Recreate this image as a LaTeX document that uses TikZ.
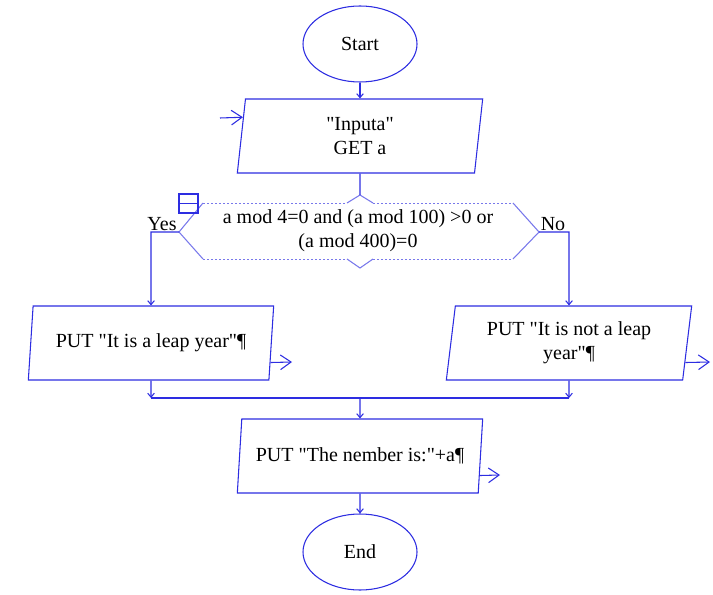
\documentclass[tikz,border=0pt]{standalone}
\usepackage{fontspec}
\setmainfont{Liberation Serif}[Ligatures=TeXOff]
\usetikzlibrary{shapes.geometric,arrows.meta,calc}
\definecolor{flowBlue}{RGB}{45,45,225}
\definecolor{dotBlue}{RGB}{120,120,235}
\tikzset{
  terminal/.style={ellipse,draw=flowBlue,minimum width=85.5pt,minimum height=57pt},
  io/.style={trapezium,trapezium left angle=80,trapezium right angle=100,
    trapezium stretches body,draw=flowBlue,minimum width=184pt,minimum height=55.5pt,align=center},
  flow/.style={draw=flowBlue,-{Straight Barb[length=3pt,width=5pt]}},
  exit/.style={draw=flowBlue,-{Straight Barb[length=8pt,width=11pt]}},
  dots/.style={draw=dotBlue,line width=0.6pt,dash pattern=on 1.5pt off 1.5pt}
}
\begin{document}
\begin{tikzpicture}[x=0.75pt,y=-0.75pt,line width=0.8pt,font=\fontsize{15}{18}\selectfont]
    \useasboundingbox (0,0) rectangle (713,595);
    \node[terminal] (start) at (360,44) {Start};
    \node[io] (input) at (360,136) {"Inputa"\\GET a};
    \node[align=center] (dec) at (358,231) {a mod 4=0 and (a mod 100) >0 or\\(a mod 400)=0};
    \node[io] (yesOut) at (151,343) {PUT "It is a leap year"¶};
    \node[io] (noOut) at (569,343) {PUT "It is not a leap\\year"¶};
    \node[io] (numOut) at (360,456) {PUT "The nember is:"+a¶};
    \node[terminal] (finish) at (360,552) {End};
    % decision box
    \coordinate (decLeft) at (179,232);
    \coordinate (decRight) at (539,232);
    \coordinate (decTop) at (360,195);
    \coordinate (decBottom) at (360,268);
    \draw[dotBlue] (203,203) -- (decLeft) -- (203,259);
    \draw[dotBlue] (513,203) -- (decRight) -- (513,259);
    \draw[dots] (203,203) -- (347,203) (373,203) -- (513,203);
    \draw[dots] (203,259) -- (347,259) (373,259) -- (513,259);
    \draw[dotBlue] (347,203) -- (decTop) -- (373,203);
    \draw[dotBlue] (347,259) -- (decBottom) -- (373,259);
    \draw[flowBlue] (179,194) rectangle (198,213) (179,203.5) -- (198,203.5);
    \node (yesLbl) at (162,224) {Yes};
    \node (noLbl) at (553,224) {No};
    % free ends
    \coordinate (inFree) at (220,118);
    \coordinate (yesExit) at (292,362);
    \coordinate (noExit) at (710,362);
    \coordinate (numExit) at (500,475);
    \coordinate (merge) at (360,398);
    \draw[flow] (start) -- (input);
    \draw[exit] (inFree) -- ($(input.top left corner)!.25!(input.bottom left corner)$);
    \draw[flowBlue] (input) -- (decTop);
    \draw[flow] (decLeft) -- (yesOut |- decLeft) -- (yesOut);
    \draw[flow] (decRight) -- (noOut |- decRight) -- (noOut);
    \draw[exit] ($(yesOut.top right corner)!.76!(yesOut.bottom right corner)$) -- (yesExit);
    \draw[exit] ($(noOut.top right corner)!.76!(noOut.bottom right corner)$) -- (noExit);
    \draw[flow] (yesOut) -- (yesOut |- merge);
    \draw[flow] (noOut) -- (noOut |- merge);
    \draw[flowBlue] (yesOut |- merge) -- (noOut |- merge);
    \draw[flow] (merge) -- (numOut);
    \draw[exit] ($(numOut.top right corner)!.76!(numOut.bottom right corner)$) -- (numExit);
    \draw[flow] (numOut) -- (finish);
\end{tikzpicture}
\end{document}
